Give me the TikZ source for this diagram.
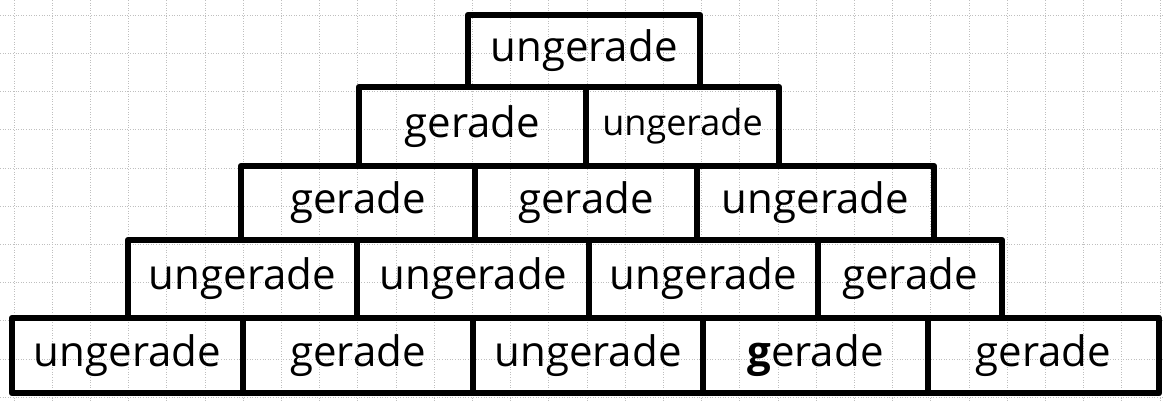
\documentclass[tikz,border=0pt]{standalone}
\usepackage{fontspec}
\setmainfont{Open Sans}
\begin{document}
\begin{tikzpicture}[x=1pt,y=-1pt,
  gridline/.style={gray!50, line width=0.6pt, dotted},
  brick/.style={draw=black, line width=6.5pt, line join=round, inner sep=0pt,
    font=\fontsize{42}{42}\selectfont},
  small/.style={font=\fontsize{36}{36}\selectfont}]
\useasboundingbox (0,0) rectangle (1164,401);
% graph paper
\foreach \k in {0,...,30} \draw[gridline] (13.8+38.2*\k,0) -- (13.8+38.2*\k,401);
\foreach \k in {0,...,10} \draw[gridline] (0,15+38.2*\k) -- (1164,15+38.2*\k);
% row 1
\node[brick, minimum width=232pt, minimum height=72pt] (r1a) at (584,51) {ungerade};
% row 2
\node[brick, minimum width=227pt, minimum height=79pt] (r2a) at (472.5,126.5) {gerade};
\node[brick, small, minimum width=193pt, minimum height=79pt] (r2b) at (682.5,126.5) {ungerade};
% row 3
\node[brick, minimum width=234pt, minimum height=74pt] (r3a) at (358,203) {gerade};
\node[brick, minimum width=222pt, minimum height=74pt] (r3b) at (586,203) {gerade};
\node[brick, minimum width=237pt, minimum height=74pt] (r3c) at (815.5,203) {ungerade};
% row 4
\node[brick, minimum width=229pt, minimum height=78pt] (r4a) at (242.5,279) {ungerade};
\node[brick, minimum width=232pt, minimum height=78pt] (r4b) at (473,279) {ungerade};
\node[brick, minimum width=229pt, minimum height=78pt] (r4c) at (703.5,279) {ungerade};
\node[brick, minimum width=184pt, minimum height=78pt] (r4d) at (910,279) {gerade};
% row 5
\node[brick, minimum width=231pt, minimum height=75pt] (r5a) at (127.5,355.5) {ungerade};
\node[brick, minimum width=230pt, minimum height=75pt] (r5b) at (358,355.5) {gerade};
\node[brick, minimum width=230pt, minimum height=75pt] (r5c) at (588,355.5) {ungerade};
\node[brick, minimum width=225pt, minimum height=75pt] (r5d) at (815.5,355.5) {\textbf{g}erade};
\node[brick, minimum width=231pt, minimum height=75pt] (r5e) at (1043.5,355.5) {gerade};
\end{tikzpicture}
\end{document}
